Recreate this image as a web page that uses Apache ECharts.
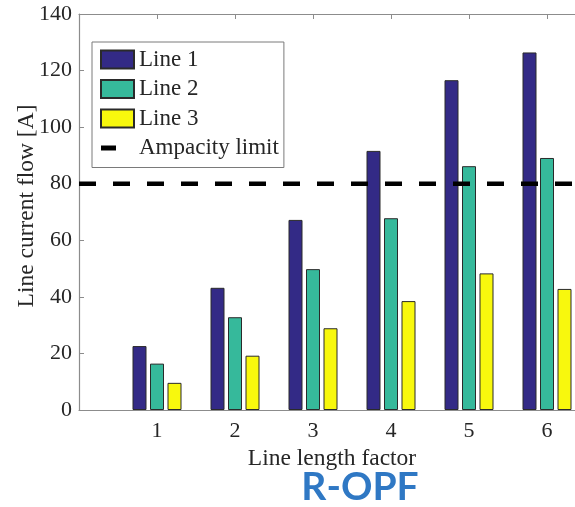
<!DOCTYPE html>
<html>
<head>
<meta charset="utf-8">
<script src="https://cdn.jsdelivr.net/npm/echarts@6/dist/echarts.min.js"></script>
<style>html,body{margin:0;padding:0;background:#fff;}#c{width:575px;height:507px;}</style>
</head>
<body>
<div id="c"></div>
<script>
var categories = ['1', '2', '3', '4', '5', '6'];
var line1 = [22.6, 43.2, 67.2, 91.6, 116.6, 126.4];
var line2 = [16.4, 32.8, 49.8, 67.8, 86.2, 89.1];
var line3 = [9.6, 19.2, 28.9, 38.5, 48.3, 42.8];
var ampacityLimit = 80;
var yTicks = [0, 20, 40, 60, 80, 100, 120, 140];

// pad categories with an empty slot at each end (axis runs 0..7)
var axisCats = ['0'].concat(categories).concat(['7']);
function pad(arr) { return [null].concat(arr).concat([null]); }
var limitData = axisCats.map(function () { return ampacityLimit; });

var serif = 'Liberation Serif';
var txt = '#262626';
var axisCol = '#8c8c8c';

var chart = echarts.init(document.getElementById('c'), null, {renderer: 'canvas'});
chart.setOption({
  animation: false,
  backgroundColor: '#fff',
  title: {
    text: 'R-OPF',
    left: 360, top: 468, padding: 0,
    textAlign: 'center',
    textStyle: {fontFamily: 'Lato', fontWeight: 'bold', fontSize: 39, color: '#2f78c4'}
  },
  grid: {left: 79, top: 14, height: 396, width: 546, containLabel: false, outerBoundsMode: 'none'},
  legend: {
    orient: 'vertical', left: 92, top: 42,
    itemWidth: 33, itemHeight: 18, itemGap: 6.5,
    padding: [6, 5, 8, 8],
    backgroundColor: '#fff', borderColor: '#7a7a7a', borderWidth: 1,
    textStyle: {fontFamily: serif, fontSize: 23, color: txt, lineHeight: 18},
    data: [
      {name: 'Line 1', icon: 'rect'},
      {name: 'Line 2', icon: 'rect'},
      {name: 'Line 3', icon: 'rect'},
      {name: 'Ampacity limit', icon: 'path://M0,0 M33,18 M0,6.5 L15,6.5 L15,11.5 L0,11.5 Z'}
    ]
  },
  xAxis: [{
    type: 'category', data: axisCats, boundaryGap: false, position: 'bottom',
    axisLine: {lineStyle: {color: axisCol, width: 1.2}},
    axisTick: {inside: true, length: 5, lineStyle: {color: axisCol}},
    axisLabel: {
      margin: 10, fontFamily: serif, fontSize: 22, color: txt,
      formatter: function (v) { return categories.indexOf(v) >= 0 ? v : ''; }
    },
    name: 'Line length factor', nameLocation: 'middle', nameGap: 35,
    nameTextStyle: {fontFamily: serif, fontSize: 23.5, color: txt, padding: [0, 40, 0, 0]},
    splitLine: {show: false}
  }, {
    type: 'category', data: axisCats, boundaryGap: false, position: 'top',
    axisLine: {lineStyle: {color: axisCol, width: 1.2}},
    axisTick: {inside: true, length: 5, lineStyle: {color: axisCol}},
    axisLabel: {show: false}, splitLine: {show: false}
  }],
  yAxis: {
    type: 'value', min: 0, max: 140, interval: 20,
    axisLine: {show: true, lineStyle: {color: axisCol, width: 1.2}},
    axisTick: {show: true, inside: true, length: 5, lineStyle: {color: axisCol}},
    axisLabel: {
      margin: 7, fontFamily: serif, fontSize: 22, color: txt,
      formatter: function (v) { return yTicks.indexOf(v) >= 0 ? String(v) : ''; }
    },
    splitLine: {show: false},
    name: 'Line current flow [A]', nameLocation: 'middle', nameGap: 40, nameMoveOverlap: false,
    nameTextStyle: {fontFamily: serif, fontSize: 23.5, color: txt, padding: [0, 0, 0, 12]}
  },
  series: [
    {name: 'Line 1', type: 'bar', data: pad(line1), barWidth: 14, barGap: '25%',
     itemStyle: {color: '#332a86', borderColor: '#2a2a2a', borderWidth: 1}},
    {name: 'Line 2', type: 'bar', data: pad(line2), barWidth: 14, barGap: '25%',
     itemStyle: {color: '#36b99b', borderColor: '#2a2a2a', borderWidth: 1}},
    {name: 'Line 3', type: 'bar', data: pad(line3), barWidth: 14, barGap: '25%',
     itemStyle: {color: '#f8f80d', borderColor: '#2a2a2a', borderWidth: 1}},
    {name: 'Ampacity limit', type: 'line', data: limitData, symbol: 'none', z: 5,
     itemStyle: {color: '#000'},
     lineStyle: {color: '#000', width: 4.5, type: [17, 17]}}
  ]
});
</script>
</body>
</html>
